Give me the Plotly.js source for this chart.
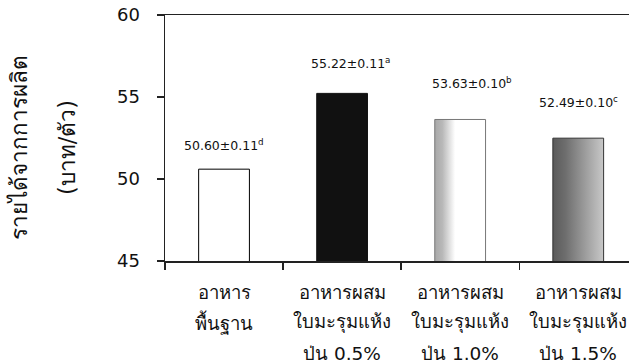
<!DOCTYPE html>
<html>
<head>
<meta charset="utf-8">
<script src="https://cdn.plot.ly/plotly-3.0.1.min.js"></script>
<style>
html,body{margin:0;padding:0;background:#fff;}
#chart{width:629px;height:363px;}
</style>
</head>
<body>
<div id="chart"></div>
<script>
// ---- data ----
const categories = ["อาหารพื้นฐาน", "อาหารผสมใบมะรุมแห้งป่น 0.5%", "อาหารผสมใบมะรุมแห้งป่น 1.0%", "อาหารผสมใบมะรุมแห้งป่น 1.5%"];
const labelLines = [
  ["อาหาร", "พื้นฐาน"],
  ["อาหารผสม", "ใบมะรุมแห้ง", "ป่น 0.5%"],
  ["อาหารผสม", "ใบมะรุมแห้ง", "ป่น 1.0%"],
  ["อาหารผสม", "ใบมะรุมแห้ง", "ป่น 1.5%"]
];
const values = [50.60, 55.22, 53.63, 52.49];
const sems = ["0.11", "0.11", "0.10", "0.10"];
const letters = ["d", "a", "b", "c"];
const yTicks = [45, 50, 55, 60];
const yTitleLines = ["รายได้จากการผลิต", "(บาท/ตัว)"];

// ---- styles ----
const thaiFont = "Tahoma, 'DejaVu Sans', 'Noto Sans', sans-serif";
const numFont = "'DejaVu Sans', Verdana, sans-serif";
const barFills = ["#ffffff", "#111111", "#d8d8d8", "#8a8a8a"];
const barLines = ["#000000", "#111111", "#777777", "#333333"];
const labelYShift = [14, 20, 26, 26];
const labelXShift = [0, 8, 12, 0];

const trace = {
  type: "bar",
  x: categories,
  y: values,
  width: 0.43,
  marker: {color: barFills, line: {color: barLines, width: 1}},
  hoverinfo: "none"
};

const annotations = [];
values.forEach((v, i) => {
  annotations.push({
    x: categories[i], y: v, xref: "x", yref: "y",
    text: v.toFixed(2) + "±" + sems[i] + "<sup>" + letters[i] + "</sup>",
    showarrow: false, yanchor: "bottom", yshift: labelYShift[i], xshift: labelXShift[i],
    font: {family: numFont, size: 12.5, color: "#111"}
  });
  labelLines[i].forEach((t, k) => {
    annotations.push({
      x: categories[i], y: 0, xref: "x", yref: "paper",
      text: t, showarrow: false, yanchor: "middle",
      yshift: -31 - 30.5 * k,
      font: {family: thaiFont, size: 18.5, color: "#111"}
    });
  });
});
yTitleLines.forEach((t, k) => {
  annotations.push({
    x: 0, y: 0.5, xref: "paper", yref: "paper",
    text: t, showarrow: false, textangle: -90,
    xanchor: "center", yanchor: "middle",
    xshift: -146 + 48 * k, yshift: -10,
    font: {family: thaiFont, size: 22.5, color: "#111"}
  });
});

const layout = {
  width: 629, height: 363,
  margin: {l: 165, r: 0, t: 15, b: 102},
  paper_bgcolor: "#fff", plot_bgcolor: "#fff",
  showlegend: false,
  xaxis: {
    type: "category",
    range: [-0.5, 3.43],
    showticklabels: false,
    ticks: "outside", tickson: "boundaries", ticklen: 7, tickcolor: "#222", tickwidth: 1.3,
    showline: true, linecolor: "#222", linewidth: 1.5, mirror: true,
    showgrid: false, zeroline: false, fixedrange: true
  },
  yaxis: {
    range: [45, 60],
    tickvals: yTicks,
    ticks: "outside", ticklen: 7, tickcolor: "#222", tickwidth: 1.5,
    ticklabelstandoff: 13,
    tickfont: {family: thaiFont, size: 18, color: "#111"},
    showline: true, linecolor: "#222", linewidth: 1.5,
    showgrid: false, zeroline: false, fixedrange: true
  },
  annotations: annotations
};

Plotly.newPlot("chart", [trace], layout, {staticPlot: true, displayModeBar: false}).then(gd => {
  const svg = gd.querySelector(".main-svg");
  let defs = svg.querySelector("defs");
  const NS = "http://www.w3.org/2000/svg";
  if (!defs) { defs = document.createElementNS(NS, "defs"); svg.insertBefore(defs, svg.firstChild); }
  function grad(id, stops) {
    const g = document.createElementNS(NS, "linearGradient");
    g.setAttribute("id", id);
    g.setAttribute("x1", "0"); g.setAttribute("x2", "1"); g.setAttribute("y1", "0"); g.setAttribute("y2", "0");
    stops.forEach(s => {
      const st = document.createElementNS(NS, "stop");
      st.setAttribute("offset", s[0]); st.setAttribute("stop-color", s[1]);
      g.appendChild(st);
    });
    defs.appendChild(g);
  }
  grad("g3", [[0, "#a8a8a8"], [0.15, "#b8b8b8"], [0.4, "#ffffff"], [1, "#ffffff"]]);
  grad("g4", [[0, "#5a5a5a"], [0.25, "#6e6e6e"], [1, "#c8c8c8"]]);
  const paths = gd.querySelectorAll(".barlayer .point path");
  if (paths[2]) paths[2].style.fill = "url(#g3)";
  if (paths[3]) paths[3].style.fill = "url(#g4)";
});
</script>
</body>
</html>
